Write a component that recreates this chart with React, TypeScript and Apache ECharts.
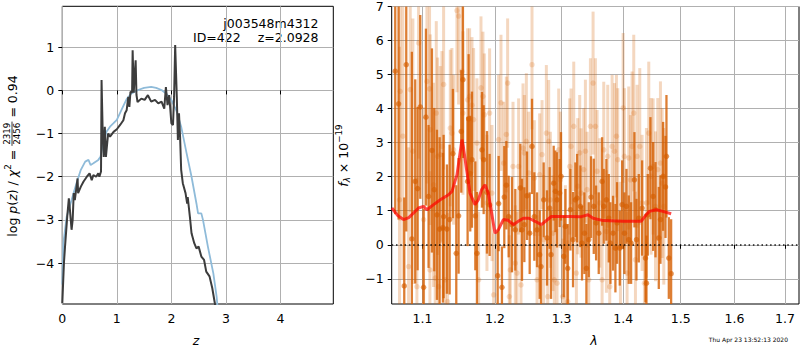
import React, { useEffect, useRef } from 'react';
import * as echarts from 'echarts';

// ---------- Left panel: log p(z) ----------
const pzZ = [0.0, 0.01, 0.03, 0.05, 0.09, 0.12, 0.14, 0.17, 0.19, 0.21, 0.23, 0.28, 0.29, 0.34, 0.39, 0.45, 0.5, 0.54, 0.57, 0.62, 0.66, 0.68, 0.71, 0.72, 0.74, 0.76, 0.78, 0.8, 0.84, 0.875, 0.94, 1.0, 1.06, 1.12, 1.15, 1.18, 1.21, 1.23, 1.25, 1.28, 1.29, 1.31, 1.33, 1.345, 1.36, 1.38, 1.45, 1.51, 1.57, 1.63, 1.7, 1.76, 1.82, 1.87, 1.9, 1.93, 1.96, 1.98, 2.0, 2.03, 2.05, 2.07, 2.1, 2.12, 2.14, 2.16, 2.18, 2.21, 2.26, 2.29, 2.3, 2.34, 2.37, 2.42, 2.46, 2.5, 2.55, 2.6, 2.64, 2.7, 2.75, 2.8, 2.83];
const pzLogP = [-4.93, -4.62, -4.0, -3.62, -2.93, -2.5, -2.77, -3.23, -3.0, -2.38, -2.54, -2.04, -2.38, -2.23, -2.11, -2.0, -1.92, -2.08, -1.96, -2.0, -1.92, -2.0, -1.88, 0.24, -0.92, -1.54, -0.84, -1.54, -1.0, -1.07, -0.96, -0.9, -0.8, -0.69, -0.53, -0.46, -0.15, -0.38, -0.03, -0.05, 0.93, -0.05, 0.4, 0.7, -0.1, -0.27, -0.19, -0.22, -0.11, -0.26, -0.22, -0.3, -0.26, -0.42, 0.08, -0.34, -0.11, -0.42, -0.76, -0.8, -0.15, 1.05, -0.15, -1.15, -0.53, -1.07, -1.84, -2.15, -2.38, -2.62, -2.47, -2.93, -3.31, -3.54, -3.66, -3.62, -3.85, -3.93, -4.2, -4.31, -4.58, -4.95, -5.3];

const priorZ = [0.0, 0.02, 0.08, 0.17, 0.26, 0.34, 0.42, 0.48, 0.52, 0.57, 0.66, 0.7, 0.75, 0.81, 0.875, 0.94, 1.0, 1.06, 1.12, 1.18, 1.27, 1.39, 1.5, 1.63, 1.72, 1.82, 1.91, 2.0, 2.09, 2.18, 2.28, 2.37, 2.46, 2.49, 2.55, 2.58, 2.67, 2.77, 2.83, 2.86];
const priorLogP = [-4.5, -3.54, -2.93, -2.54, -2.15, -1.84, -1.65, -1.61, -1.73, -1.69, -1.61, -1.54, -1.23, -0.96, -0.84, -0.76, -0.68, -0.52, -0.36, -0.2, -0.07, 0.01, 0.06, 0.08, 0.06, 0.01, -0.08, -0.22, -0.46, -0.84, -1.46, -2.0, -2.62, -2.85, -2.85, -3.0, -3.62, -4.24, -4.78, -5.2];

const zTicks = [0, 1, 2, 3, 4];
const pzTicks = [-4, -3, -2, -1, 0, 1];

// ---------- Right panel: spectrum ----------
const lamTicks = [1.1, 1.2, 1.3, 1.4, 1.5, 1.6, 1.7];
const fluxTicks = [-1, 0, 1, 2, 3, 4, 5, 6, 7];

const darkLam = [
  1.0645, 1.0688, 1.0761, 1.0787, 1.0860, 1.0904, 1.0935, 1.0970, 1.1014, 1.1045,
  1.1080, 1.1125, 1.1156, 1.1192, 1.1228, 1.1273, 1.1282, 1.1327, 1.1364, 1.1409,
  1.1455, 1.1487, 1.1524, 1.1547, 1.1612, 1.1626, 1.1649, 1.1673, 1.1720, 1.1743,
  1.1814, 1.1838, 1.1885, 1.1923, 1.2039, 1.2053, 1.2101, 1.2135, 1.2165, 1.2199,
  1.2248, 1.2297, 1.2371, 1.2396, 1.2431, 1.2471, 1.2511, 1.2546, 1.2581, 1.2622,
  1.2662, 1.2682, 1.2723, 1.2774, 1.2815, 1.2836, 1.2877, 1.2903, 1.2929, 1.2970,
  1.2991, 1.3033, 1.3059, 1.3096, 1.3138, 1.3180, 1.3217, 1.3244, 1.3297, 1.3323,
  1.3361, 1.3393, 1.3431, 1.3468, 1.3512, 1.3550, 1.3593, 1.3648, 1.3675, 1.3719,
  1.3758, 1.3785, 1.3829, 1.3868, 1.3896, 1.3941, 1.3980, 1.4019, 1.4053, 1.4092,
  1.4132, 1.4189, 1.4223, 1.4263, 1.4320, 1.4378, 1.4395, 1.4418, 1.4464, 1.4511,
  1.4552, 1.4610, 1.4639, 1.4686, 1.4728, 1.4745, 1.4787, 1.4828,
];
const darkFlux = [
  5.10, 4.14, -1.21, 5.29, 0.17, 1.86, 1.65, 4.05, -1.25, 3.75,
  1.42, 2.77, 1.62, 0.88, 0.46, 0.50, 0.83, 0.46, 0.74, 2.68,
  -0.25, 0.85, 3.33, 4.85, 1.86, 3.70, 2.09, 2.50, 0.85, -0.25,
  2.79, 2.50, 1.54, 1.17, -0.91, 1.21, -1.25, 1.40, 1.75, 0.83,
  0.59, 0.44, 1.67, 0.44, 0.59, 1.44, 0.34, 2.89, 0.83, 0.44,
  -0.29, -0.64, 1.32, 0.20, 1.08, -0.29, 1.81, 1.57, 1.32, 1.52,
  2.01, -0.34, 0.54, -0.69, 1.03, 0.15, 1.32, 1.37, 1.13, 0.05,
  0.34, -0.69, 0.15, 1.40, 1.13, 0.64, 0.34, 1.86, 1.13, 1.32,
  0.78, 0.05, 0.34, -0.10, 0.64, -0.10, 1.18, 0.34, 1.13, 0.15,
  0.05, 1.91, 0.15, 0.78, 1.08, -0.39, -1.13, 0.88, 2.25, 1.42,
  1.03, 0.20, 0.74, 2.01, 1.70, 2.60, -0.39, -0.85,
];
const darkErr = [
  4.2, 3.4, 2.6, 4.9, 5.5, 3.0, 2.4, 2.7, 2.3, 2.6,
  2.1, 3.0, 2.4, 2.5, 2.7, 2.2, 2.4, 1.9, 2.2, 1.9,
  2.0, 1.7, 1.8, 2.3, 1.9, 1.9, 1.7, 2.0, 1.6, 1.8,
  1.7, 1.6, 1.8, 1.5, 1.3, 1.4, 1.2, 1.5, 1.3, 1.2,
  1.4, 1.2, 1.3, 1.5, 1.1, 1.3, 1.2, 1.4, 1.3, 1.1,
  1.3, 1.2, 1.1, 1.4, 1.2, 1.3, 1.1, 1.2, 1.4, 1.0,
  1.3, 1.2, 1.1, 1.3, 1.2, 1.4, 1.1, 1.3, 1.2, 1.1,
  1.2, 1.3, 1.1, 1.2, 1.4, 1.1, 1.2, 1.3, 1.1, 1.2,
  1.3, 1.2, 1.1, 1.3, 1.2, 1.1, 1.3, 1.2, 1.1, 1.3,
  1.2, 1.4, 1.2, 1.3, 1.4, 1.3, 1.4, 1.2, 1.5, 1.6,
  1.4, 1.5, 1.3, 1.6, 1.5, 1.8, 1.2, 1.6,
];

const lightLam = [
  1.0700, 1.0709, 1.0743, 1.0817, 1.0839, 1.0873, 1.0926, 1.0948, 1.1014, 1.1058,
  1.1093, 1.1098, 1.1102, 1.1147, 1.1169, 1.1183, 1.1201, 1.1214, 1.1237, 1.1259,
  1.1282, 1.1304, 1.1336, 1.1373, 1.1395, 1.1418, 1.1464, 1.1487, 1.1533, 1.1547,
  1.1612, 1.1640, 1.1673, 1.1696, 1.1743, 1.1767, 1.1800, 1.1828, 1.1847, 1.1885,
  1.1923, 1.1957, 1.1981, 1.2053, 1.2087, 1.2126, 1.2165, 1.2184, 1.2209, 1.2223,
  1.2263, 1.2297, 1.2322, 1.2346, 1.2381, 1.2411, 1.2431, 1.2461, 1.2496, 1.2546,
  1.2581, 1.2622, 1.2662, 1.2698, 1.2723, 1.2764, 1.2785, 1.2800, 1.2826, 1.2867,
  1.2887, 1.2929, 1.2955, 1.2981, 1.3017, 1.3059, 1.3096, 1.3127, 1.3148, 1.3191,
  1.3233, 1.3254, 1.3286, 1.3307, 1.3350, 1.3377, 1.3404, 1.3431, 1.3458, 1.3501,
  1.3539, 1.3566, 1.3610, 1.3648, 1.3675, 1.3719, 1.3741, 1.3774, 1.3813, 1.3852,
  1.3885, 1.3907, 1.3952, 1.3997, 1.4019, 1.4064, 1.4092, 1.4121, 1.4149, 1.4177,
  1.4206, 1.4234, 1.4280, 1.4320, 1.4360, 1.4395, 1.4435, 1.4476, 1.4511, 1.4552,
  1.4592, 1.4639, 1.4669, 1.4698,
];
const lightFlux = [
  1.32, 4.51, 3.19, -0.64, 4.56, 2.75, -1.23, 5.93, 0.74, 4.80,
  4.58, -0.74, 3.38, 1.76, -0.98, 3.87, 2.60, -1.23, 2.65, 2.89,
  4.71, -1.03, -1.67, 3.43, 3.28, 2.79, 6.88, 6.72, 5.10, 3.87,
  4.26, 4.36, 4.10, 3.68, 2.99, -1.03, 4.61, 4.36, 3.82, 1.23,
  3.87, 1.52, -1.47, 3.09, 4.17, 2.40, 3.24, 4.75, -1.52, -0.74,
  2.30, -0.54, -0.83, 2.30, -1.18, 2.84, 2.70, 3.04, 2.11, 5.29,
  1.96, -1.03, 2.06, 2.65, 0.15, 3.28, -1.52, 3.04, 1.32, 0.34,
  -1.03, -1.13, 2.79, 1.91, -1.52, -0.15, -1.67, 2.30, 2.89, 3.48,
  -0.83, 1.72, 2.70, 1.52, 2.21, 2.75, 1.62, -1.03, 3.48, 4.75,
  3.48, 2.16, 1.23, -1.03, 2.79, 0.39, 2.60, -1.23, 2.89, 2.75,
  3.19, 2.50, -0.05, 4.02, 2.60, -0.83, 2.55, 1.91, 2.89, 3.87,
  -0.44, 2.60, 2.89, 1.23, -1.13, 1.23, 3.28, 2.01, 2.30, 1.13,
  2.21, 2.40, 1.81, 1.13,
];
const lightErr = [
  4.5, 3.8, 4.2, 3.5, 3.6, 3.9, 3.2, 3.4, 3.3, 3.0,
  3.1, 2.9, 2.8, 3.0, 2.6, 2.7, 2.9, 2.5, 2.6, 2.8,
  2.5, 2.4, 2.6, 2.3, 2.5, 2.2, 2.4, 2.6, 2.2, 2.4,
  2.1, 2.0, 2.0, 2.1, 1.9, 2.0, 2.1, 1.9, 1.8, 2.0,
  1.9, 2.0, 1.8, 1.9, 2.0, 1.8, 1.7, 1.9, 1.8, 1.6,
  1.9, 1.7, 1.8, 2.0, 1.6, 1.9, 1.7, 2.0, 1.8, 1.9,
  1.7, 1.9, 1.8, 1.6, 1.9, 2.0, 1.7, 1.8, 2.0, 1.7,
  1.9, 1.6, 1.8, 2.0, 1.7, 1.9, 1.8, 2.0, 1.7, 1.9,
  1.8, 2.0, 1.7, 1.9, 1.8, 2.1, 1.7, 1.9, 2.0, 2.1,
  2.0, 1.8, 1.9, 1.7, 2.0, 1.8, 2.1, 1.9, 2.1, 2.0,
  1.8, 2.1, 1.9, 2.2, 2.0, 1.8, 2.1, 1.9, 2.2, 2.3,
  2.0, 2.1, 2.3, 2.0, 1.9, 2.2, 2.1, 2.3, 2.0, 2.2,
  2.1, 2.4, 2.2, 2.3,
];

const modelLam = [1.0602, 1.0680, 1.0752, 1.0820, 1.0890, 1.0947, 1.1013, 1.1058, 1.1147, 1.1237, 1.1349, 1.1396, 1.1465, 1.1533, 1.1552, 1.1598, 1.1645, 1.1715, 1.1762, 1.1809, 1.1857, 1.1904, 1.1952, 1.2000, 1.2048, 1.2121, 1.2190, 1.2268, 1.2341, 1.2416, 1.2500, 1.2592, 1.2688, 1.2841, 1.3127, 1.3300, 1.3420, 1.3501, 1.3665, 1.4000, 1.4303, 1.4390, 1.4447, 1.4564, 1.4680, 1.4829];
const modelFlux = [1.08, 0.85, 0.74, 0.80, 0.95, 1.08, 1.13, 1.03, 1.18, 1.32, 1.47, 1.57, 2.06, 3.09, 2.89, 2.20, 1.52, 1.18, 1.32, 1.62, 1.76, 1.52, 0.93, 0.34, 0.44, 0.74, 0.72, 0.59, 0.69, 0.78, 0.78, 0.69, 0.59, 0.83, 0.83, 0.82, 0.88, 0.78, 0.71, 0.69, 0.69, 0.88, 0.98, 1.03, 0.98, 0.91];

// ---------- helpers ----------
const FONT = 'DejaVu Sans';
const FS = 12.5;
const fmtInt = (v: number) => {
  const r = Math.round(v);
  return r < 0 ? '\u2212' + Math.abs(r) : String(r);
};
const fmtLam = (v: number) => Math.pow(10, v).toFixed(1);

let measureCtx: CanvasRenderingContext2D | null = null;
function measure(text: string, size: number, italic: boolean) {
  if (!measureCtx) measureCtx = document.createElement('canvas').getContext('2d');
  if (!measureCtx) return text.length * size * 0.6;
  measureCtx.font = `${italic ? 'italic ' : ''}${size}px "${FONT}"`;
  return measureCtx.measureText(text).width;
}

type Seg = { t?: string; size?: number; italic?: boolean; dy?: number; frac?: [string, string] };

function rotatedLabel(segs: Seg[], cx: number, cy: number) {
  const children: any[] = [];
  let cur = 0;
  segs.forEach((s) => {
    if (s.frac) {
      const sz = s.size || 8.75;
      const fw = Math.max(measure(s.frac[0], sz, false), measure(s.frac[1], sz, false)) + 2;
      children.push({ type: 'text', x: cur + fw / 2, y: -4.8, style: { text: s.frac[0], fontSize: sz, fontFamily: FONT, fill: '#000', align: 'center', verticalAlign: 'middle' } });
      children.push({ type: 'text', x: cur + fw / 2, y: 5.0, style: { text: s.frac[1], fontSize: sz, fontFamily: FONT, fill: '#000', align: 'center', verticalAlign: 'middle' } });
      children.push({ type: 'line', shape: { x1: cur, y1: 0, x2: cur + fw, y2: 0 }, style: { stroke: '#000', lineWidth: 0.8 } });
      cur += fw;
    } else {
      const sz = s.size || FS;
      const w = measure(s.t || '', sz, !!s.italic);
      children.push({ type: 'text', x: cur, y: s.dy || 0, style: { text: s.t, fontSize: sz, fontFamily: FONT, fontStyle: s.italic ? 'italic' : 'normal', fill: '#000', align: 'left', verticalAlign: 'middle' } });
      cur += w;
    }
  });
  return { type: 'group', x: cx, y: cy + cur / 2, rotation: Math.PI / 2, children };
}

function errRender(color: string, width: number, yMin: number, yMax: number) {
  return (params: any, api: any) => {
    const x = api.value(0);
    const lo = Math.max(api.value(1), yMin);
    const hi = Math.min(api.value(2), yMax);
    if (hi <= lo) return null;
    const a = api.coord([x, lo]);
    const b = api.coord([x, hi]);
    return { type: 'line', shape: { x1: a[0], y1: a[1], x2: b[0], y2: b[1] }, style: { stroke: color, lineWidth: width } };
  };
}

const axisCommon = (ticks: number[], fmt: (v: number) => string, margin: number) => ({
  type: 'value' as const,
  axisLine: { show: false },
  axisTick: { show: true, inside: false, length: 4, lineStyle: { color: '#000', width: 1 }, customValues: ticks },
  axisLabel: { customValues: ticks, formatter: fmt, color: '#000', fontSize: FS, fontFamily: FONT, margin, showMinLabel: true, showMaxLabel: true, hideOverlap: false },
  splitLine: { show: true, lineStyle: { color: '#b0b0b0', width: 1 } },
  minorTick: { show: false },
});

export default function App() {
  const ref = useRef<HTMLDivElement>(null);
  useEffect(() => {
    if (!ref.current) return;
    const chart = echarts.init(ref.current, undefined, { renderer: 'svg', width: 800, height: 350 });
    const FY_MIN = -1.74, FY_MAX = 7;
    const DARK = 'rgba(213,94,0,0.8)';
    const LIGHT = 'rgba(213,94,0,0.25)';
    const lamLog = lamTicks.map((t) => Math.log10(t));

    const option: any = {
      animation: false,
      backgroundColor: '#fff',
      grid: [
        { left: 62.3, top: 6.3, width: 271, height: 297.7, show: true, borderColor: '#000', borderWidth: 1, backgroundColor: 'transparent', containLabel: false, outerBoundsMode: 'none' },
        { left: 391.7, top: 6.5, width: 407.3, height: 297.5, show: true, borderColor: '#000', borderWidth: 1, backgroundColor: 'transparent', containLabel: false, outerBoundsMode: 'none' },
      ],
      xAxis: [
        { ...axisCommon(zTicks, fmtInt, 8), gridIndex: 0, min: 0, max: 4.97 },
        { ...axisCommon(lamLog, fmtLam, 8), gridIndex: 1, min: Math.log10(1.06), max: Math.log10(1.729) },
      ],
      yAxis: [
        { ...axisCommon(pzTicks, fmtInt, 8), gridIndex: 0, min: -4.95, max: 1.95 },
        { ...axisCommon(fluxTicks, fmtInt, 8), gridIndex: 1, min: FY_MIN, max: FY_MAX },
      ],
      series: [
        {
          type: 'line', xAxisIndex: 0, yAxisIndex: 0, showSymbol: false, symbol: 'none',
          data: priorZ.map((z, i) => [z, priorLogP[i]]),
          lineStyle: { color: '#8fbbd9', width: 1.8 }, z: 2,
        },
        {
          type: 'line', xAxisIndex: 0, yAxisIndex: 0, showSymbol: false, symbol: 'none',
          data: pzZ.map((z, i) => [z, pzLogP[i]]),
          lineStyle: { color: '#3c3c3c', width: 2 }, z: 3,
        },
        {
          type: 'custom', xAxisIndex: 1, yAxisIndex: 1,
          renderItem: errRender(LIGHT, 3, FY_MIN, FY_MAX),
          data: lightLam.map((l, i) => [Math.log10(l), lightFlux[i] - lightErr[i], lightFlux[i] + lightErr[i]]),
          encode: { x: 0, y: [1, 2] }, z: 2, silent: true,
        },
        {
          type: 'scatter', xAxisIndex: 1, yAxisIndex: 1, symbolSize: 5.5,
          data: lightLam.map((l, i) => [Math.log10(l), lightFlux[i]]),
          itemStyle: { color: LIGHT }, z: 3, silent: true,
        },
        {
          type: 'custom', xAxisIndex: 1, yAxisIndex: 1,
          renderItem: errRender(DARK, 2.3, FY_MIN, FY_MAX),
          data: darkLam.map((l, i) => [Math.log10(l), darkFlux[i] - darkErr[i], darkFlux[i] + darkErr[i]]),
          encode: { x: 0, y: [1, 2] }, z: 4, silent: true,
        },
        {
          type: 'scatter', xAxisIndex: 1, yAxisIndex: 1, symbolSize: 5.5,
          data: darkLam.map((l, i) => [Math.log10(l), darkFlux[i]]),
          itemStyle: { color: DARK }, z: 5, silent: true,
        },
        {
          type: 'line', xAxisIndex: 1, yAxisIndex: 1, showSymbol: false, symbol: 'none',
          data: modelLam.map((l, i) => [Math.log10(l), modelFlux[i]]),
          lineStyle: { color: 'rgba(255,0,0,0.7)', width: 3 }, z: 6,
          markLine: {
            silent: true, symbol: 'none', label: { show: false },
            lineStyle: { color: '#000', width: 1.5, type: [1.5, 2.8], opacity: 0.9 },
            data: [{ yAxis: 0 }],
          },
        },
      ],
      graphic: [
        rotatedLabel([
          { t: 'log ' }, { t: 'p', italic: true }, { t: '(' }, { t: 'z', italic: true }, { t: ') / ' },
          { t: '\u03c7', italic: true }, { t: '2', size: 8.75, dy: -4.5 }, { t: ' = ' },
          { frac: ['2319', '2456'] }, { t: ' = 0.94' },
        ], 12, 156),
        rotatedLabel([
          { t: 'f', italic: true }, { t: '\u03bb', size: 8.75, italic: true, dy: 3.5 }, { t: ' \u00d7 10' },
          { t: '\u221219', size: 8.75, dy: -5 },
        ], 343.5, 155.5),
        { type: 'text', x: 196, y: 340, style: { text: 'z', fontSize: FS, fontFamily: FONT, fontStyle: 'italic', fill: '#000', align: 'center', verticalAlign: 'middle' } },
        { type: 'text', x: 594, y: 340.5, style: { text: '\u03bb', fontSize: FS, fontFamily: FONT, fontStyle: 'italic', fill: '#000', align: 'center', verticalAlign: 'middle' } },
        { type: 'text', x: 318.5, y: 23.5, style: { text: 'j003548m4312', fontSize: FS, fontFamily: FONT, fill: '#000', align: 'right', verticalAlign: 'middle' } },
        { type: 'text', x: 240.7, y: 37.8, style: { text: 'ID=422', fontSize: FS, fontFamily: FONT, fill: '#000', align: 'right', verticalAlign: 'middle' } },
        { type: 'text', x: 318.5, y: 37.8, style: { text: 'z=2.0928', fontSize: FS, fontFamily: FONT, fill: '#000', align: 'right', verticalAlign: 'middle' } },
        { type: 'text', x: 788, y: 339.5, style: { text: 'Thu Apr 23 13:52:13 2020', fontSize: 6, fontFamily: FONT, fill: '#000', align: 'right', verticalAlign: 'middle' } },
      ],
    };
    chart.setOption(option);
    return () => chart.dispose();
  }, []);
  return <div ref={ref} style={{ position: 'fixed', left: 0, top: 0, width: 800, height: 350, background: '#fff' }} />;
}
